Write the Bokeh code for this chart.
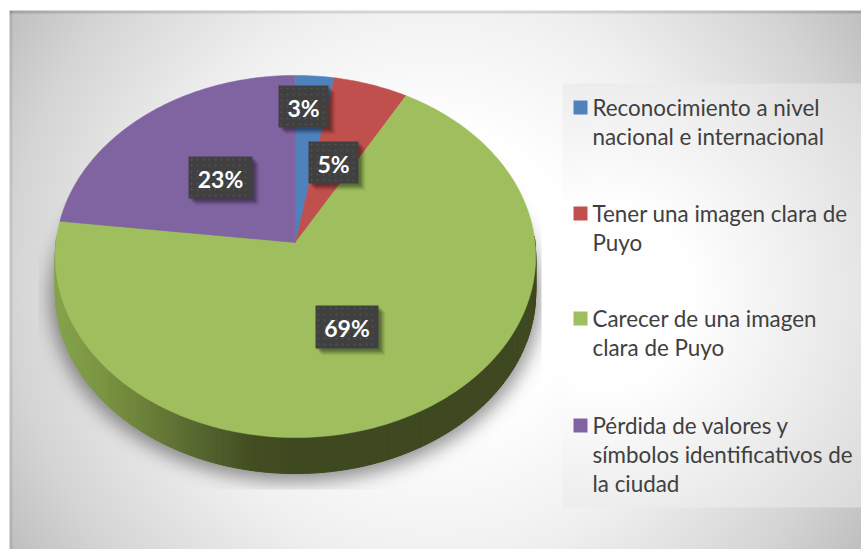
import numpy as np
from bokeh.plotting import figure
from bokeh.models import Range1d
from bokeh.core.properties import value
from bokeh.embed import file_html
from bokeh.resources import INLINE

categories = ["Reconocimiento a nivel\nnacional e internacional",
              "Tener una imagen clara de\nPuyo",
              "Carecer de una imagen\nclara de Puyo",
              "Pérdida de valores y\nsímbolos identificativos de\nla ciudad"]
values = [2.8, 5.4, 68.7, 23.1]
colors = ["#4f81bd", "#c0504d", "#9fbf5e", "#8064a2"]

W, H = 861, 549
OX, OY = 0, 0
CX, CY, R, S, K, DEPTH = 295.0, 242.0, 239.5, 180.0, 0.0773, 36.0
LABEL_BOXES = [(278, 85, 50, 42), (308, 141, 50, 42), (315, 305, 63, 43), (188, 156, 64, 42)]
LEGEND_Y = [107, 213, 318, 425]


def project(theta):
    u, v = np.sin(theta), np.cos(theta)
    w = 1 + K * v
    return CX + R * u / w, CY - S * v / w


def blur(a, sigma):
    n = int(3 * sigma)
    g = np.exp(-0.5 * (np.arange(-n, n + 1) / sigma) ** 2)
    g /= g.sum()
    a = np.apply_along_axis(lambda m: np.convolve(m, g, mode="same"), 0, a)
    return np.apply_along_axis(lambda m: np.convolve(m, g, mode="same"), 1, a)


def radial(xx, yy, cx, cy, rs, vs):
    return np.interp(np.hypot(xx - cx, yy - cy), rs, vs)


xx, yy = np.meshgrid(np.arange(OX, OX + W) + 0.5, np.arange(OY, OY + H) + 0.5)
bg = radial(xx, yy, 435, 278, [150, 285, 425, 503], [255, 240, 213, 192])


def inside(x, y, grow=1.0):
    X, Y = x - CX, CY - y
    w = 1 / (1 - K * Y / S)
    return ((X * w / (R * grow)) ** 2 + (Y * w / (S * grow)) ** 2) < 1


mask = inside(xx, yy - DEPTH - 4, 1.02).astype(float)
sh = blur(mask, 9.0) * 0.42
sh[(xx < 38) | (xx > 541) | (yy > 489)] = 0
bg = bg * (1 - sh)

panel = (xx >= 562) & (yy >= 83) & (yy < 507)
pv = radial(xx, yy, 600, 295, [100, 210, 350], [254, 238, 216])
bg = np.where(panel, pv, bg)
bg[(yy < 13) & (yy >= 10)] -= 28
bg[(xx < 12) & (xx >= 9)] -= 16
bg = np.clip(bg, 0, 255)
rgba = np.zeros((H, W), dtype=np.uint32)
view = rgba.view(dtype=np.uint8).reshape((H, W, 4))
view[..., 0] = view[..., 1] = view[..., 2] = bg.astype(np.uint8)
view[..., 3] = 255
view[(yy < 10) | (xx < 9)] = 255

p = figure(width=W, height=H, output_backend="svg", toolbar_location=None,
           x_range=Range1d(OX, OX + W), y_range=Range1d(OY + H, OY),
           min_border=0, outline_line_color=None, background_fill_color="white")
p.axis.visible = False
p.grid.visible = False
p.image_rgba(image=[rgba], x=OX, y=OY, dw=W, dh=H)

# rim of the disc
side_stops_x = [55, 100, 150, 200, 250, 300]
side_stops = np.array([[0x86, 0xa4, 0x4e], [0x7c, 0x96, 0x43], [0x6a, 0x7e, 0x38],
                       [0x56, 0x66, 0x30], [0x43, 0x4e, 0x22], [0x3f, 0x49, 0x21]])
th = np.radians(np.arange(88, 272.01, 1.0))
ox, oy = project(th)
xs, ys, cs = [], [], []
for i in range(len(th) - 1):
    xs.append([ox[i], ox[i + 1], ox[i + 1], ox[i]])
    ys.append([oy[i], oy[i + 1], oy[i + 1] + DEPTH, oy[i] + DEPTH])
    m = (ox[i] + ox[i + 1]) / 2
    c = [int(np.interp(m, side_stops_x, side_stops[:, j])) for j in range(3)]
    cs.append("#%02x%02x%02x" % tuple(c))
p.patches(xs, ys, fill_color=cs, line_color=cs, line_width=1)

# slices
edges = np.concatenate([[0], np.cumsum(values)]) / sum(values) * 2 * np.pi
for a, b, col in zip(edges[:-1], edges[1:], colors):
    t = np.linspace(a, b, max(3, int((b - a) * 60)))
    x, y = project(t)
    p.patch(np.r_[CX, x], np.r_[CY, y], fill_color=col, line_color=col, line_width=0.5)

# data labels
for (bx, by, bw, bh), v in zip(LABEL_BOXES, values):
    for off, al in [(2, .10), (3, .10), (4, .10), (5, .08), (6, .06), (7, .05)]:
        p.quad(left=bx + off, right=bx + bw + off, top=by + off, bottom=by + bh + off,
               fill_color="black", fill_alpha=al, line_color=None)
    p.quad(left=bx, right=bx + bw, top=by, bottom=by + bh, fill_color="#404040", line_color=None)
    dx, dy = np.meshgrid(np.arange(bx + 3, bx + bw - 1, 6.0), np.arange(by + 3, by + bh - 1, 6.0))
    p.scatter(dx.ravel(), dy.ravel(), size=2.0, marker="circle", fill_color="#525252", line_color=None)
    p.text([bx + bw / 2], [by + bh / 2 + 1], text=[f"{round(v)}%"], text_color="white",
           text_font=value("Lato"), text_font_style="bold", text_font_size="23px",
           text_align="center", text_baseline="middle")

# legend
for cat, col, ly in zip(categories, colors, LEGEND_Y):
    p.quad(left=573, right=587, top=ly - 7, bottom=ly + 7, fill_color=col, line_color=None)
    for j, line in enumerate(cat.split("\n")):
        p.text([592], [ly + j * 29], text=[line], text_color="#404040",
               text_font=value("Lato"), text_font_size="22.4px",
               text_align="left", text_baseline="middle")

open("out.html", "w").write(file_html(p, INLINE))
